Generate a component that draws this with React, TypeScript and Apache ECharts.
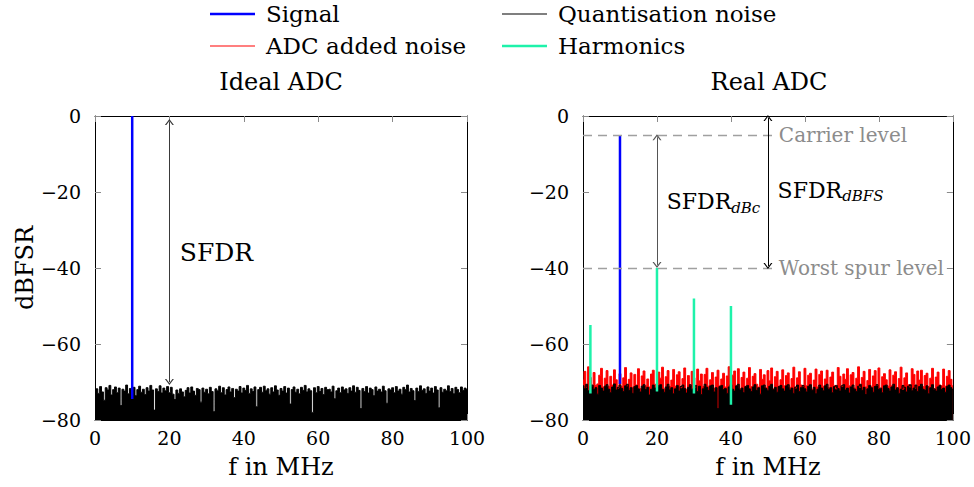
import React, { useEffect, useRef } from 'react';
import * as echarts from 'echarts';

// ---------- data ----------
const FREQ_STEP = 0.5; // MHz between noise samples
const X_TICKS_MAX = 100;

const idealQuantNoise = [
  -72.3, -71.8, -73.0, -71.2, -72.6, -74.8, -71.5, -72.1, -70.9, -73.4, -72.0, -71.3, -72.8, -71.6, -76.2, -71.9, -72.4, -70.8, -73.1, -71.7,
  -72.2, -71.4, -73.6, -72.0, -71.1, -72.7, -71.9, -73.3, -71.5, -72.4, -70.9, -72.1, -77.4, -71.8, -72.5, -71.0, -72.9, -71.6, -72.3, -71.2,
  -72.8, -71.4, -73.2, -74.6, -72.1, -73.0, -71.8, -72.6, -73.9, -72.2, -71.5, -72.9, -71.3, -72.4, -73.5, -71.7, -72.0, -75.3, -71.6, -72.7,
  -71.9, -73.1, -71.4, -72.5, -77.8, -71.8, -72.3, -71.1, -72.8, -71.5, -73.4, -72.0, -71.3, -72.6, -71.7, -74.1, -71.9, -72.4, -71.2, -72.9,
  -71.6, -72.2, -70.9, -73.0, -71.8, -72.5, -71.3, -76.5, -72.0, -71.4, -72.7, -71.1, -72.3, -71.8, -73.2, -71.5, -72.6, -71.0, -72.1, -73.5,
  -71.7, -72.4, -71.2, -72.9, -71.6, -75.8, -72.0, -71.3, -72.7, -71.9, -73.1, -71.4, -72.2, -70.9, -72.6, -71.8, -72.3, -78.0, -71.5, -72.8,
  -71.2, -72.5, -71.7, -73.3, -71.4, -72.0, -71.9, -72.6, -71.1, -74.4, -72.3, -71.6, -72.8, -71.3, -72.1, -71.8, -73.0, -71.5, -72.4, -71.0,
  -72.7, -71.4, -72.2, -77.0, -71.7, -72.5, -71.2, -72.9, -71.6, -72.0, -73.6, -71.3, -72.4, -71.9, -72.6, -71.1, -72.3, -75.6, -71.8, -72.1,
  -71.5, -72.8, -71.2, -72.4, -71.9, -73.2, -71.4, -72.0, -70.8, -72.6, -71.7, -72.3, -74.9, -71.6, -72.5, -71.0, -72.2, -71.8, -73.0, -71.3,
  -72.4, -71.6, -72.9, -71.2, -72.1, -76.8, -71.5, -72.7, -71.9, -72.3, -71.0, -72.5, -71.7, -73.1, -71.4, -72.0, -72.8, -71.3, -72.2, -71.6,
  -72.0,
];

const realQuantNoise = [
  -71.0, -71.8, -70.6, -72.3, -71.2, -70.8, -72.0, -71.5, -73.2, -70.9, -71.6, -72.4, -71.1, -70.7, -71.9, -72.8, -71.3, -70.5, -72.1, -71.4,
  -70.8, -71.7, -72.5, -71.0, -70.6, -72.2, -71.5, -73.0, -71.2, -70.9, -71.8, -72.6, -71.1, -70.7, -72.0, -71.4, -73.4, -71.9, -70.8, -71.6,
  -72.3, -71.0, -70.7, -71.9, -72.7, -71.3, -70.6, -72.1, -71.5, -73.1, -71.8, -70.9, -72.4, -71.2, -70.8, -71.7, -72.9, -71.4, -70.7, -72.0,
  -71.6, -70.9, -72.5, -71.1, -73.3, -71.8, -70.6, -71.4, -72.2, -71.0, -70.8, -72.6, -71.5, -77.0, -71.2, -70.9, -72.0, -71.7, -73.0, -71.3,
  -70.7, -71.9, -72.4, -71.0, -70.6, -72.1, -71.6, -72.8, -71.2, -70.9, -71.8, -72.5, -71.3, -70.7, -72.2, -71.5, -73.2, -71.0, -70.8, -71.7,
  -72.3, -71.1, -70.6, -72.0, -71.4, -72.7, -71.2, -70.9, -71.8, -72.4, -71.0, -70.7, -72.1, -71.6, -73.0, -71.3, -70.8, -72.5, -71.5, -70.9,
  -71.8, -72.6, -71.1, -70.7, -72.2, -71.4, -73.1, -71.9, -70.8, -71.6, -72.3, -71.0, -70.6, -72.0, -71.5, -72.8, -71.2, -70.9, -71.7, -72.4,
  -71.0, -70.7, -72.1, -71.6, -72.9, -71.3, -70.8, -71.9, -72.5, -71.1, -70.6, -72.2, -71.4, -73.3, -71.8, -70.9, -71.5, -72.7, -71.2, -70.7,
  -72.0, -71.6, -72.8, -71.0, -70.8, -71.7, -72.4, -71.3, -70.6, -72.1, -71.5, -73.0, -71.9, -70.9, -71.4, -72.6, -71.1, -70.7, -72.3, -71.6,
  -70.8, -72.5, -71.2, -70.6, -71.9, -72.2, -71.0, -73.1, -71.5, -70.7, -71.8, -72.4, -71.3, -70.9, -72.0, -71.6, -72.7, -71.1, -70.8, -71.5,
  -72.0,
];

const realAddedNoise = [
  -69.5, -67.2, -71.4, -66.0, -68.8, -71.0, -67.5, -70.9, -70.5, -68.2, -66.4, -71.3, -69.0, -67.0, -71.2, -68.5, -70.8, -66.8, -69.4, -71.6,
  -67.8, -71.2, -68.9, -66.2, -71.0, -69.3, -67.6, -71.4, -68.0, -70.8, -66.5, -71.7, -68.4, -67.1, -71.0, -69.2, -71.3, -67.9, -66.9, -70.6,
  -71.3, -67.4, -69.0, -66.1, -71.8, -68.6, -67.0, -71.2, -69.5, -66.7, -71.1, -68.1, -67.3, -71.5, -69.1, -66.3, -71.9, -68.3, -70.8, -67.2,
  -68.9, -71.4, -66.6, -69.7, -67.9, -71.2, -68.0, -66.4, -71.1, -69.4, -67.5, -71.6, -68.7, -66.9, -71.0, -69.2, -67.7, -71.3, -68.4, -66.0,
  -71.0, -68.2, -67.1, -70.9, -66.5, -71.7, -68.8, -67.4, -71.1, -69.0, -66.2, -71.2, -68.5, -67.8, -70.6, -71.3, -66.7, -69.3, -68.1, -71.5,
  -67.0, -69.7, -66.3, -71.8, -68.6, -67.2, -71.1, -69.4, -66.8, -71.0, -68.3, -67.6, -71.4, -69.1, -66.1, -71.6, -68.9, -67.3, -70.8, -71.2,
  -66.4, -71.0, -68.2, -67.7, -71.9, -69.5, -66.6, -71.3, -68.0, -67.1, -71.1, -69.2, -66.9, -71.5, -68.7, -67.4, -70.9, -71.8, -66.2, -68.5,
  -71.2, -67.9, -69.3, -66.5, -71.0, -68.1, -67.5, -71.6, -69.0, -66.0, -71.4, -68.8, -67.2, -71.3, -69.6, -66.7, -71.1, -68.4, -67.0, -70.9,
  -66.3, -71.7, -68.6, -67.8, -69.4, -71.1, -66.8, -71.0, -68.2, -67.3, -71.5, -69.1, -66.1, -71.9, -68.9, -67.6, -70.7, -71.3, -66.5, -68.0,
  -71.6, -67.1, -69.5, -66.9, -71.2, -68.3, -67.7, -71.2, -69.0, -66.4, -71.8, -68.7, -67.4, -70.8, -71.0, -66.6, -71.1, -68.5, -67.0, -69.3,
  -71.0,
];

const signalFreq = 10; // MHz
const signalTop = [0, -5]; // ideal, real (dBFSR)
const signalFloor = [-74.5, -70.5];

const harmonicFreqs = [2, 20, 30, 40];
const harmonicLevels = [-55, -40, -48, -50];
const harmonicFloors = [-73, -72.5, -73, -76];

const carrierLevel = -5;
const worstSpurLevel = -40;

// ---------- style ----------
const FONT = 'DejaVu Serif';
const BIG = 24;
const LEGEND = 23;
const TICK = 19;
const BLUE = '#0000ff';
const RED = '#ff0000';
const CYAN = '#1ef2aa';
const ARROW = 'path://M0,8 L5,0 L10,8 L8.4,8 L5,2.6 L1.6,8 Z';
const ICON_THICK = 'path://M0,0 L18,0 L18,1 L0,1 Z';
const ICON_THIN = 'path://M0,0 L45,0 L45,1 L0,1 Z';

const toPairs = (vals: number[]) => vals.map((v, i) => [i * FREQ_STEP, v]);
const minusFmt = (v: number) => (v < 0 ? '\u2212' + Math.abs(v) : String(v));

function makeAxes(gridIndex: number, withYName: boolean) {
  const tick = { show: true, inside: true, length: 6, lineStyle: { color: '#8a8a8a', width: 1 } };
  const line = { show: true, onZero: false, lineStyle: { color: '#000', width: 1 } };
  const xs = [
    {
      type: 'value', gridIndex, min: 0, max: X_TICKS_MAX, interval: 20, position: 'bottom',
      axisLine: line, axisTick: tick, splitLine: { show: false },
      axisLabel: { color: '#000', fontFamily: FONT, fontSize: TICK, margin: 8 },
      name: 'f in MHz', nameLocation: 'middle', nameGap: 35,
      nameTextStyle: { color: '#000', fontFamily: FONT, fontSize: BIG },
    },
    {
      type: 'value', gridIndex, min: 0, max: X_TICKS_MAX, interval: 20, position: 'top',
      axisLine: line, axisTick: tick, splitLine: { show: false }, axisLabel: { show: false },
    },
  ];
  const ys = [
    {
      type: 'value', gridIndex, min: -80, max: 0, interval: 20, position: 'left',
      axisLine: line, axisTick: tick, splitLine: { show: false },
      axisLabel: { color: '#000', fontFamily: FONT, fontSize: TICK, margin: 14, formatter: minusFmt },
      name: withYName ? 'dBFSR' : '', nameLocation: 'middle', nameGap: 55,
      nameTextStyle: { color: '#000', fontFamily: FONT, fontSize: BIG },
    },
    {
      type: 'value', gridIndex, min: -80, max: 0, interval: 20, position: 'right',
      axisLine: line, axisTick: tick, splitLine: { show: false }, axisLabel: { show: false },
    },
  ];
  return { xs, ys };
}

function noiseSeries(name: string, vals: number[], color: string, xi: number, yi: number, extra: any = {}) {
  return {
    name, type: 'line', xAxisIndex: xi, yAxisIndex: yi, data: toPairs(vals),
    step: 'middle', symbol: 'none', showSymbol: false, silent: true,
    lineStyle: { color, width: 1 }, itemStyle: { color },
    areaStyle: { color, opacity: 1, origin: 'start' },
    ...extra,
  };
}

function arrowLine(x: number, y1: number, y2: number, color: string) {
  return [
    { coord: [x, y1], symbol: ARROW, symbolSize: [9, 6], lineStyle: { color, width: 1, type: 'solid' }, label: { show: false } },
    { coord: [x, y2], symbol: ARROW, symbolSize: [9, 6] },
  ];
}

function dashedLevel(y: number, xEnd: number, text: string) {
  return [
    {
      coord: [0, y], symbol: 'none', name: text,
      lineStyle: { color: '#a0a0a0', width: 1.3, type: [9, 6] },
      label: { show: true, position: 'end', formatter: '{b}', color: '#8c8c8c', fontFamily: FONT, fontSize: 20, distance: 5 },
    },
    { coord: [xEnd, y], symbol: 'none' },
  ];
}

function textPoint(x: number, y: number, formatter: string, rich?: any, fontSize = BIG) {
  return {
    coord: [x, y], symbol: 'circle', symbolSize: 1, itemStyle: { color: 'rgba(0,0,0,0)' },
    label: {
      show: true, position: 'right', distance: 4, formatter, color: '#000',
      fontFamily: FONT, fontSize, rich,
    },
  };
}

const subRich = {
  a: { fontFamily: FONT, fontSize: 22, color: '#000', lineHeight: 30 },
  b: { fontFamily: FONT, fontSize: 15, fontStyle: 'italic', color: '#000', lineHeight: 30, padding: [12, 0, 0, 0] },
};

const legendText = { color: '#000', fontFamily: FONT, fontSize: LEGEND, lineHeight: 28, padding: [0, 0, 0, 6] };

export default function App() {
  const ref = useRef<HTMLDivElement>(null);

  useEffect(() => {
    if (!ref.current) return;
    const chart = echarts.init(ref.current, undefined, { renderer: 'svg' });
    const a0 = makeAxes(0, true);
    const a1 = makeAxes(1, false);

    const harmonicSeries = harmonicFreqs.map((f, i) => ({
      name: 'Harmonics', type: 'line', xAxisIndex: 2, yAxisIndex: 2, symbol: 'none', showSymbol: false,
      data: [[f, harmonicFloors[i]], [f, harmonicLevels[i]]],
      lineStyle: { color: CYAN, width: 2.5 }, itemStyle: { color: CYAN }, silent: true,
    }));

    const option: any = {
      animation: false,
      backgroundColor: '#fff',
      textStyle: { fontFamily: FONT },
      legend: [
        {
          left: 210, top: 0, orient: 'vertical', padding: 0, itemGap: 4, itemWidth: 45, itemHeight: 14,
          symbolKeepAspect: true, selectedMode: false, textStyle: legendText,
          data: [
            { name: 'Signal', icon: ICON_THICK, itemStyle: { color: BLUE } },
            { name: 'ADC added noise', icon: ICON_THIN, itemStyle: { color: RED } },
          ],
        },
        {
          left: 502, top: 0, orient: 'vertical', padding: 0, itemGap: 4, itemWidth: 45, itemHeight: 14,
          symbolKeepAspect: true, selectedMode: false, textStyle: legendText,
          data: [
            { name: 'Quantisation noise', icon: ICON_THIN, itemStyle: { color: '#000' } },
            { name: 'Harmonics', icon: ICON_THICK, itemStyle: { color: CYAN } },
          ],
        },
      ],
      graphic: [
        { type: 'text', x: 281, y: 82, style: { text: 'Ideal ADC', font: `${BIG}px ${FONT}`, fill: '#000', textAlign: 'center', textVerticalAlign: 'middle', align: 'center', verticalAlign: 'middle' } },
        { type: 'text', x: 769, y: 82, style: { text: 'Real ADC', font: `${BIG}px ${FONT}`, fill: '#000', textAlign: 'center', textVerticalAlign: 'middle', align: 'center', verticalAlign: 'middle' } },
      ],
      grid: [
        { left: 95, top: 116, width: 372, height: 304, show: false },
        { left: 583, top: 116, width: 372, height: 304, show: false },
      ],
      xAxis: [...a0.xs, ...a1.xs],
      yAxis: [...a0.ys, ...a1.ys],
      series: [
        noiseSeries('Quantisation noise', idealQuantNoise, '#000', 0, 0),
        {
          name: 'Signal', type: 'line', xAxisIndex: 0, yAxisIndex: 0, symbol: 'none', showSymbol: false, silent: true,
          data: [[signalFreq, signalFloor[0]], [signalFreq, signalTop[0]]],
          lineStyle: { color: BLUE, width: 2.5 }, itemStyle: { color: BLUE },
          markLine: { silent: true, animation: false, data: [arrowLine(20, -1.6, -70, '#3a3a3a')] },
          markPoint: { silent: true, animation: false, data: [textPoint(21.6, -35.8, 'SFDR', undefined, 25)] },
        },
        noiseSeries('ADC added noise', realAddedNoise, RED, 2, 2),
        noiseSeries('Quantisation noise', realQuantNoise, '#000', 2, 2, {
          markLine: {
            silent: true, animation: false,
            data: [dashedLevel(carrierLevel, 51.6, 'Carrier level'), dashedLevel(worstSpurLevel, 51.6, 'Worst spur level')],
          },
        }),
        ...harmonicSeries,
        {
          name: 'Signal', type: 'line', xAxisIndex: 2, yAxisIndex: 2, symbol: 'none', showSymbol: false, silent: true,
          data: [[signalFreq, signalFloor[1]], [signalFreq, signalTop[1]]],
          lineStyle: { color: BLUE, width: 2.5 }, itemStyle: { color: BLUE },
          markLine: {
            silent: true, animation: false,
            data: [arrowLine(20, carrierLevel - 0.6, worstSpurLevel + 0.8, '#555'), arrowLine(50, -0.5, worstSpurLevel + 0.5, '#000')],
          },
          markPoint: {
            silent: true, animation: false,
            data: [
              textPoint(21.4, -22.6, '{a|SFDR}{b|dBc}', subRich),
              textPoint(51.4, -19.6, '{a|SFDR}{b|dBFS}', subRich),
            ],
          },
        },
      ],
    };
    chart.setOption(option);
    return () => chart.dispose();
  }, []);

  return (
    <div
      ref={ref}
      style={{ position: 'fixed', left: 0, top: 0, width: 974, height: 487, background: '#fff' }}
    />
  );
}
